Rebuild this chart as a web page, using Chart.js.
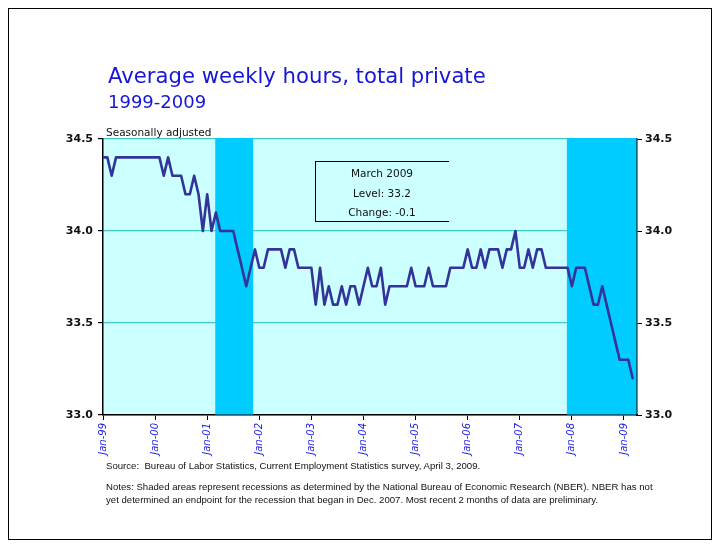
<!DOCTYPE html>
<html><head><meta charset="utf-8">
<script src="https://cdn.jsdelivr.net/npm/chart.js@4/dist/chart.umd.min.js"></script>
<style>
body{margin:0;background:#fff;}
#wrap{position:relative;width:720px;height:548px;overflow:hidden;background:#fff;}
#frame{position:absolute;left:8px;top:8px;width:704px;height:532px;border:1px solid #000;box-sizing:border-box;}
canvas{position:absolute;left:0;top:0;}
.t{position:absolute;white-space:nowrap;line-height:1;}
#box{position:absolute;left:315px;top:161px;width:134px;height:61px;border-top:1px solid #000;border-left:1px solid #000;border-bottom:1px solid #000;box-sizing:border-box;}
.bx{position:absolute;left:315px;width:134px;text-align:center;font:10.5px 'DejaVu Sans';color:#111;line-height:1;}
.note{font:9.6px 'Liberation Sans',Arial,sans-serif;color:#111;}
</style></head>
<body><div id="wrap">
<div id="frame"></div>
<canvas id="c" width="720" height="548"></canvas>
<div class="t" style="left:108px;top:63px;font:21.2px 'DejaVu Sans';color:#1616d8">Average weekly hours, total private</div>
<div class="t" style="left:108px;top:91px;font:18px 'DejaVu Sans';color:#1616d8">1999-2009</div>
<div class="t" style="left:106px;top:126px;font:10.5px 'DejaVu Sans';color:#111">Seasonally adjusted</div>
<div id="box"></div>
<div class="bx" style="top:167.5px">March 2009</div>
<div class="bx" style="top:187.5px">Level: 33.2</div>
<div class="bx" style="top:206.5px">Change: -0.1</div>
<div class="t note" style="left:106px;top:460px">Source:&nbsp; Bureau of Labor Statistics, Current Employment Statistics survey, April 3, 2009.</div>
<div class="t note" style="left:106px;top:480.5px">Notes: Shaded areas represent recessions as determined by the National Bureau of Economic Research (NBER). NBER has not</div>
<div class="t note" style="left:106px;top:494px">yet determined an endpoint for the recession that began in Dec. 2007. Most recent 2 months of data are preliminary.</div>
</div>
<script>
// Monthly average weekly hours, Jan-1999 .. Mar-2009 (month index 0 = Jan-99)
const hours = [
 34.4,34.4,34.3,34.4,34.4,34.4,34.4,34.4,34.4,34.4,34.4,34.4, // 1999
 34.4,34.4,34.3,34.4,34.3,34.3,34.3,34.2,34.2,34.3,34.2,34.0, // 2000
 34.2,34.0,34.1,34.0,34.0,34.0,34.0,33.9,33.8,33.7,33.8,33.9, // 2001
 33.8,33.8,33.9,33.9,33.9,33.9,33.8,33.9,33.9,33.8,33.8,33.8, // 2002
 33.8,33.6,33.8,33.6,33.7,33.6,33.6,33.7,33.6,33.7,33.7,33.6, // 2003
 33.7,33.8,33.7,33.7,33.8,33.6,33.7,33.7,33.7,33.7,33.7,33.8, // 2004
 33.7,33.7,33.7,33.8,33.7,33.7,33.7,33.7,33.8,33.8,33.8,33.8, // 2005
 33.9,33.8,33.8,33.9,33.8,33.9,33.9,33.9,33.8,33.9,33.9,34.0, // 2006
 33.8,33.8,33.9,33.8,33.9,33.9,33.8,33.8,33.8,33.8,33.8,33.8, // 2007
 33.7,33.8,33.8,33.8,33.7,33.6,33.6,33.7,33.6,33.5,33.4,33.3, // 2008
 33.3,33.3,33.2                                               // 2009
];
const xTickLabels = ['Jan-99','Jan-00','Jan-01','Jan-02','Jan-03','Jan-04','Jan-05','Jan-06','Jan-07','Jan-08','Jan-09'];
const yTickLabels = ['33.0','33.5','34.0','34.5'];
// recession periods in month-index units (NBER: Mar-01..Nov-01, Dec-07..)
const recessionStart = [25.85, 106.85];
const recessionEnd   = [34.6, 123];

const bgPlugin = {
  id:'bg',
  beforeDraw(chart){
    const {ctx, chartArea:a} = chart;
    ctx.save(); ctx.fillStyle='#CCFFFF';
    ctx.fillRect(a.left,a.top,a.right-a.left,a.bottom-a.top);
    ctx.restore();
  },
  beforeDatasetsDraw(chart){
    const {ctx, chartArea:a, scales:{x}} = chart;
    ctx.save(); ctx.fillStyle='#00CCFF';
    for(let k=0;k<recessionStart.length;k++){
      const x0 = x.getPixelForValue(recessionStart[k]);
      const x1 = Math.min(x.getPixelForValue(recessionEnd[k]), a.right-0.5);
      ctx.fillRect(x0, a.top-1, x1-x0, a.bottom-a.top+0.5);
    }
    ctx.restore();
  }
};

new Chart(document.getElementById('c'), {
  type:'line',
  data:{datasets:[{
    data: hours.map((v,i)=>({x:i,y:v})),
    borderColor:'#333399', borderWidth:2.6, pointRadius:0, tension:0,
    borderJoinStyle:'round', borderCapStyle:'round', fill:false
  }]},
  options:{
    responsive:false, animation:false,
    layout:{padding:{top:139,left:0,right:0,bottom:0}},
    plugins:{legend:{display:false},tooltip:{enabled:false}},
    scales:{
      x:{type:'linear', min:0, max:123,
        afterFit:s=>{s.height=133;},
        border:{color:'#000',width:1.5},
        grid:{drawOnChartArea:false, drawTicks:true, tickLength:5, tickColor:'#000'},
        ticks:{stepSize:12, includeBounds:false, autoSkip:false, maxRotation:90, minRotation:90, padding:3,
          color:'#1a1ae6', font:{family:'DejaVu Sans', size:10, style:'italic'},
          callback:v=> (v%12===0 ? (xTickLabels[v/12]||'') : '')}
      },
      y:{position:'left', min:33, max:34.5,
        afterFit:s=>{s.width=103;},
        border:{color:'#000',width:1.5},
        grid:{color:'#40C8C8', lineWidth:1.2, tickLength:5, tickColor:'#000'},
        ticks:{stepSize:0.5, padding:5, color:'#111', font:{family:'DejaVu Sans', size:11, weight:'bold'},
          callback:v=> yTickLabels[Math.round((v-33)/0.5)] }
      },
      y2:{position:'right', min:33, max:34.5,
        afterFit:s=>{s.width=83;},
        border:{color:'#000',width:1.5},
        grid:{drawOnChartArea:false, tickLength:5, tickColor:'#000'},
        ticks:{stepSize:0.5, padding:3, color:'#111', font:{family:'DejaVu Sans', size:11, weight:'bold'},
          callback:v=> yTickLabels[Math.round((v-33)/0.5)] }
      }
    }
  },
  plugins:[bgPlugin]
});
</script>
</body></html>
